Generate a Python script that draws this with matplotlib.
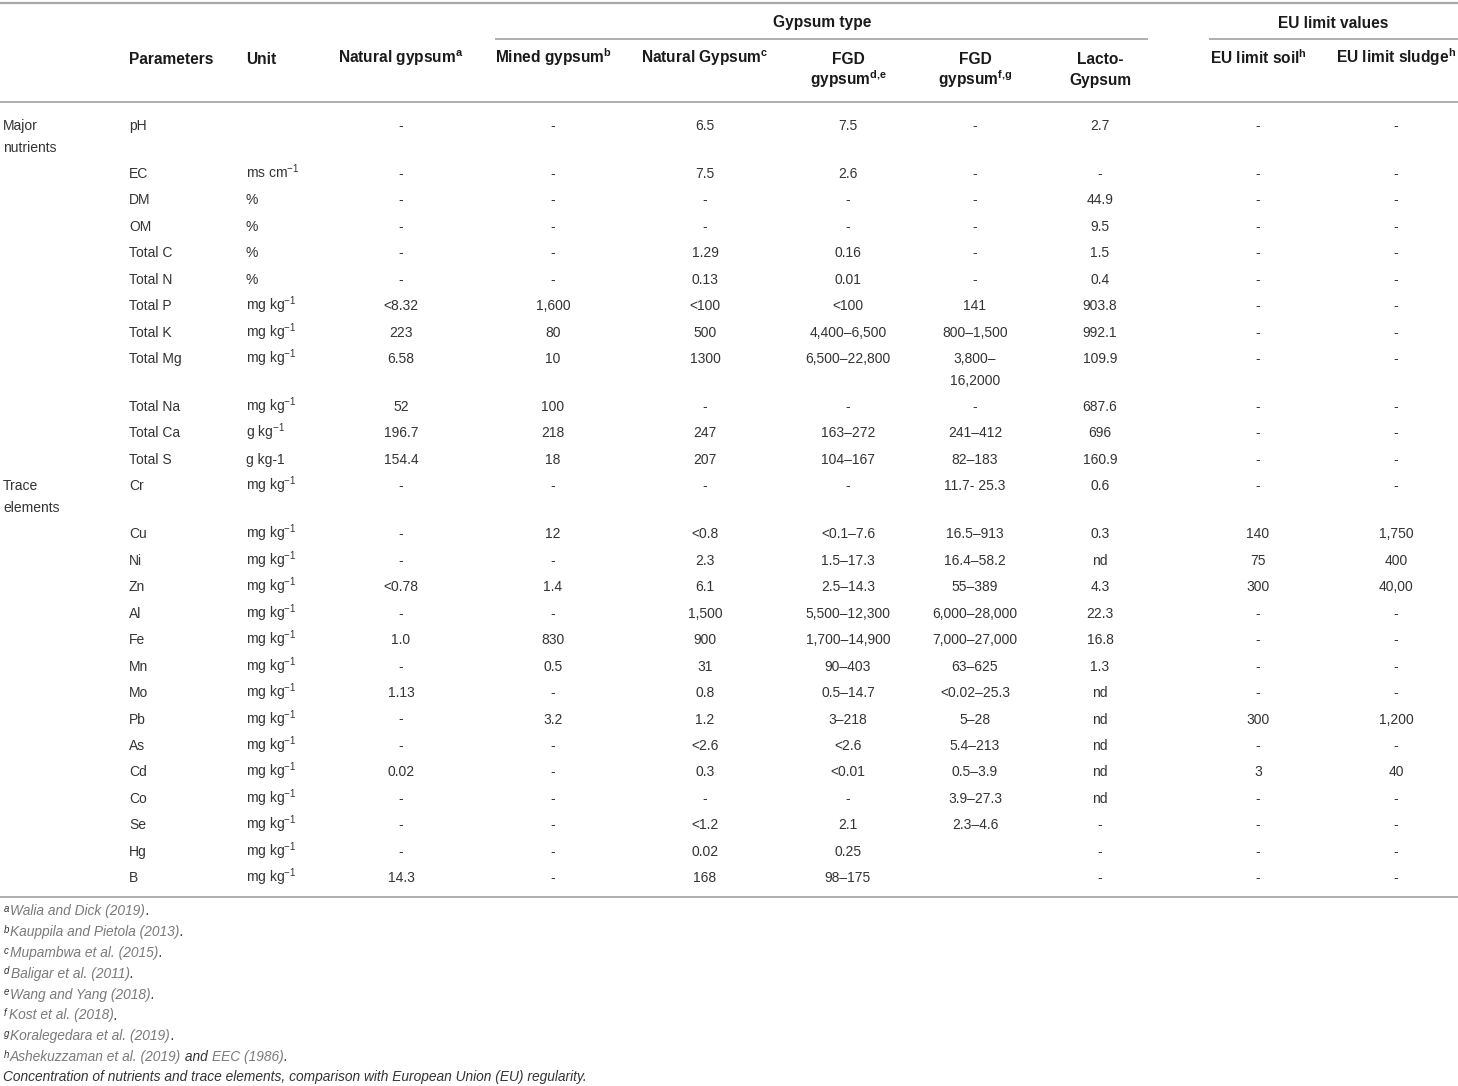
import matplotlib
matplotlib.use("Agg")
import matplotlib.pyplot as plt

plt.rcParams['font.family'] = ['Liberation Sans', 'DejaVu Sans']
plt.rcParams['mathtext.fontset'] = 'custom'
plt.rcParams['mathtext.rm'] = 'Liberation Sans'
plt.rcParams['mathtext.it'] = 'Liberation Sans:italic'
plt.rcParams['mathtext.bf'] = 'Liberation Sans:bold'
plt.rcParams['mathtext.sf'] = 'Liberation Sans'

# ---------------- data ----------------
group_labels = ["Major\nnutrients", "Trace\nelements"]
group_start_rows = [0, 12]

parameters = ["pH", "EC", "DM", "OM", "Total C", "Total N", "Total P", "Total K",
              "Total Mg", "Total Na", "Total Ca", "Total S", "Cr", "Cu", "Ni", "Zn",
              "Al", "Fe", "Mn", "Mo", "Pb", "As", "Cd", "Co", "Se", "Hg", "B"]

MGKG = "mg kg$^{-1}$"
units = ["", "ms cm$^{-1}$", "%", "%", "%", "%", MGKG, MGKG, MGKG, MGKG,
         "g kg$^{-1}$", "g kg-1"] + [MGKG] * 15

natural_gypsum_a = ["-", "-", "-", "-", "-", "-", "<8.32", "223", "6.58", "52", "196.7", "154.4",
                    "-", "-", "-", "<0.78", "-", "1.0", "-", "1.13", "-", "-", "0.02", "-", "-", "-", "14.3"]
mined_gypsum_b = ["-", "-", "-", "-", "-", "-", "1,600", "80", "10", "100", "218", "18",
                  "-", "12", "-", "1.4", "-", "830", "0.5", "-", "3.2", "-", "-", "-", "-", "-", "-"]
natural_gypsum_c = ["6.5", "7.5", "-", "-", "1.29", "0.13", "<100", "500", "1300", "-", "247", "207",
                    "-", "<0.8", "2.3", "6.1", "1,500", "900", "31", "0.8", "1.2", "<2.6", "0.3", "-",
                    "<1.2", "0.02", "168"]
fgd_gypsum_de = ["7.5", "2.6", "-", "-", "0.16", "0.01", "<100", "4,400–6,500", "6,500–22,800", "-",
                 "163–272", "104–167", "-", "<0.1–7.6", "1.5–17.3", "2.5–14.3", "5,500–12,300",
                 "1,700–14,900", "90–403", "0.5–14.7", "3–218", "<2.6", "<0.01", "-", "2.1", "0.25", "98–175"]
fgd_gypsum_fg = ["-", "-", "-", "-", "-", "-", "141", "800–1,500", "3,800–\n16,2000", "-", "241–412",
                 "82–183", "11.7- 25.3", "16.5–913", "16.4–58.2", "55–389", "6,000–28,000",
                 "7,000–27,000", "63–625", "<0.02–25.3", "5–28", "5.4–213", "0.5–3.9", "3.9–27.3",
                 "2.3–4.6", "", ""]
lacto_gypsum = ["2.7", "-", "44.9", "9.5", "1.5", "0.4", "903.8", "992.1", "109.9", "687.6", "696",
                "160.9", "0.6", "0.3", "nd", "4.3", "22.3", "16.8", "1.3", "nd", "nd", "nd", "nd", "nd",
                "-", "-", "-"]
eu_limit_soil = ["-"] * 13 + ["140", "75", "300", "-", "-", "-", "-", "300", "-", "3", "-", "-", "-", "-"]
eu_limit_sludge = ["-"] * 13 + ["1,750", "400", "40,00", "-", "-", "-", "-", "1,200", "-", "40",
                                "-", "-", "-", "-"]

value_columns = [natural_gypsum_a, mined_gypsum_b, natural_gypsum_c, fgd_gypsum_de,
                 fgd_gypsum_fg, lacto_gypsum, eu_limit_soil, eu_limit_sludge]
column_headers = ["Natural gypsum$^{\\mathbf{a}}$", "Mined gypsum$^{\\mathbf{b}}$",
                  "Natural Gypsum$^{\\mathbf{c}}$", "FGD\ngypsum$^{\\mathbf{d{,}e}}$",
                  "FGD\ngypsum$^{\\mathbf{f{,}g}}$", "Lacto-\nGypsum",
                  "EU limit soil$^{\\mathbf{h}}$", "EU limit sludge$^{\\mathbf{h}}$"]
span_headers = ["Gypsum type", "EU limit values"]

footnote_marks = ["a", "b", "c", "d", "e", "f", "g", "h"]
footnote_refs = [["Walia and Dick (2019)"], ["Kauppila and Pietola (2013)"],
                 ["Mupambwa et al. (2015)"], ["Baligar et al. (2011)"], ["Wang and Yang (2018)"],
                 ["Kost et al. (2018)"], ["Koralegedara et al. (2019)"],
                 ["Ashekuzzaman et al. (2019)", "EEC (1986)"]]
caption = "Concentration of nutrients and trace elements, comparison with European Union (EU) regularity."

# ---------------- layout ----------------
W, H = 1458, 1086
fig = plt.figure(figsize=(W / 100, H / 100), dpi=100)
ax = fig.add_axes([0, 0, 1, 1])
ax.set_xlim(0, W)
ax.set_ylim(H, 0)
ax.axis('off')

BODY = '#333333'
HEAD = '#1a1a1a'
LINE = '#a8a8a8'
GRAY = '#7a7a7a'
FS_BODY = 10
FS_HEAD = 11.2
FS_NOTE = 9.9

x_group = 3
x_param = 129
x_unit = 246
col_centers = [401, 553, 705, 848, 975, 1100, 1258, 1396]

def hline(y, x0, x1, lw=1.3):
    ax.plot([x0, x1], [y, y], color=LINE, lw=lw, solid_capstyle='butt')

hline(3, 0, W, lw=1.6)
hline(39, 495, 1148)
hline(39, 1209, W)
hline(102, 0, W)
hline(897, 0, W, lw=1.3)

# header
ax.text(822, 23, span_headers[0], ha='center', va='center', fontsize=FS_HEAD,
        fontweight='bold', color=HEAD)
ax.text(1333, 23, span_headers[1], ha='center', va='center', fontsize=FS_HEAD,
        fontweight='bold', color=HEAD)

LINE_GAP = 21.5
def multiline(x, y_base, s, ha, **kw):
    for k, part in enumerate(s.split("\n")):
        ax.text(x, y_base + k * LINE_GAP, part, ha=ha, va='baseline', **kw)

hb = 63.5
multiline(x_param, hb, "Parameters", 'left', fontsize=FS_HEAD, fontweight='bold', color=HEAD)
multiline(x_unit, hb, "Unit", 'left', fontsize=FS_HEAD, fontweight='bold', color=HEAD)
for xc, hdr in zip(col_centers, column_headers):
    multiline(xc, hb, hdr, 'center', fontsize=FS_HEAD, fontweight='bold', color=HEAD)

# body rows
ROW = 26.45
y = 130
row_base = []
for i in range(len(parameters)):
    row_base.append(y)
    nlines = 1
    for col in value_columns:
        nlines = max(nlines, col[i].count("\n") + 1)
    if i in group_start_rows:
        nlines = max(nlines, 2)
    y += ROW + (nlines - 1) * LINE_GAP

for lab, r in zip(group_labels, group_start_rows):
    multiline(x_group, row_base[r], lab, 'left', fontsize=FS_BODY, color=BODY)

for i, (p, u) in enumerate(zip(parameters, units)):
    yb = row_base[i]
    multiline(x_param, yb, p, 'left', fontsize=FS_BODY, color=BODY)
    if u:
        multiline(x_unit, yb, u, 'left', fontsize=FS_BODY, color=BODY)
    for xc, col in zip(col_centers, value_columns):
        if col[i]:
            multiline(xc, yb, col[i], 'center', fontsize=FS_BODY, color=BODY)

# footnotes
renderer = fig.canvas.get_renderer()
def runs(x, yb, parts, fs):
    for s, color in parts:
        t = ax.text(x, yb, s, ha='left', va='baseline', fontsize=fs, color=color,
                    fontstyle='italic')
        x += t.get_window_extent(renderer).width
    return x

fy = 915
FN_GAP = 20.9
for k, (m, refs) in enumerate(zip(footnote_marks, footnote_refs)):
    parts = [("$^{" + m + "}$", BODY)]
    for j, ref in enumerate(refs):
        if j > 0:
            parts.append((" and ", BODY))
        parts.append((ref, GRAY))
    parts.append((".", BODY))
    runs(3, fy + k * FN_GAP, parts, FS_NOTE)

ax.text(3, 1081, caption, ha='left', va='baseline', fontsize=FS_NOTE,
        fontstyle='italic', color=BODY)

fig.savefig("out.png", dpi=100)
